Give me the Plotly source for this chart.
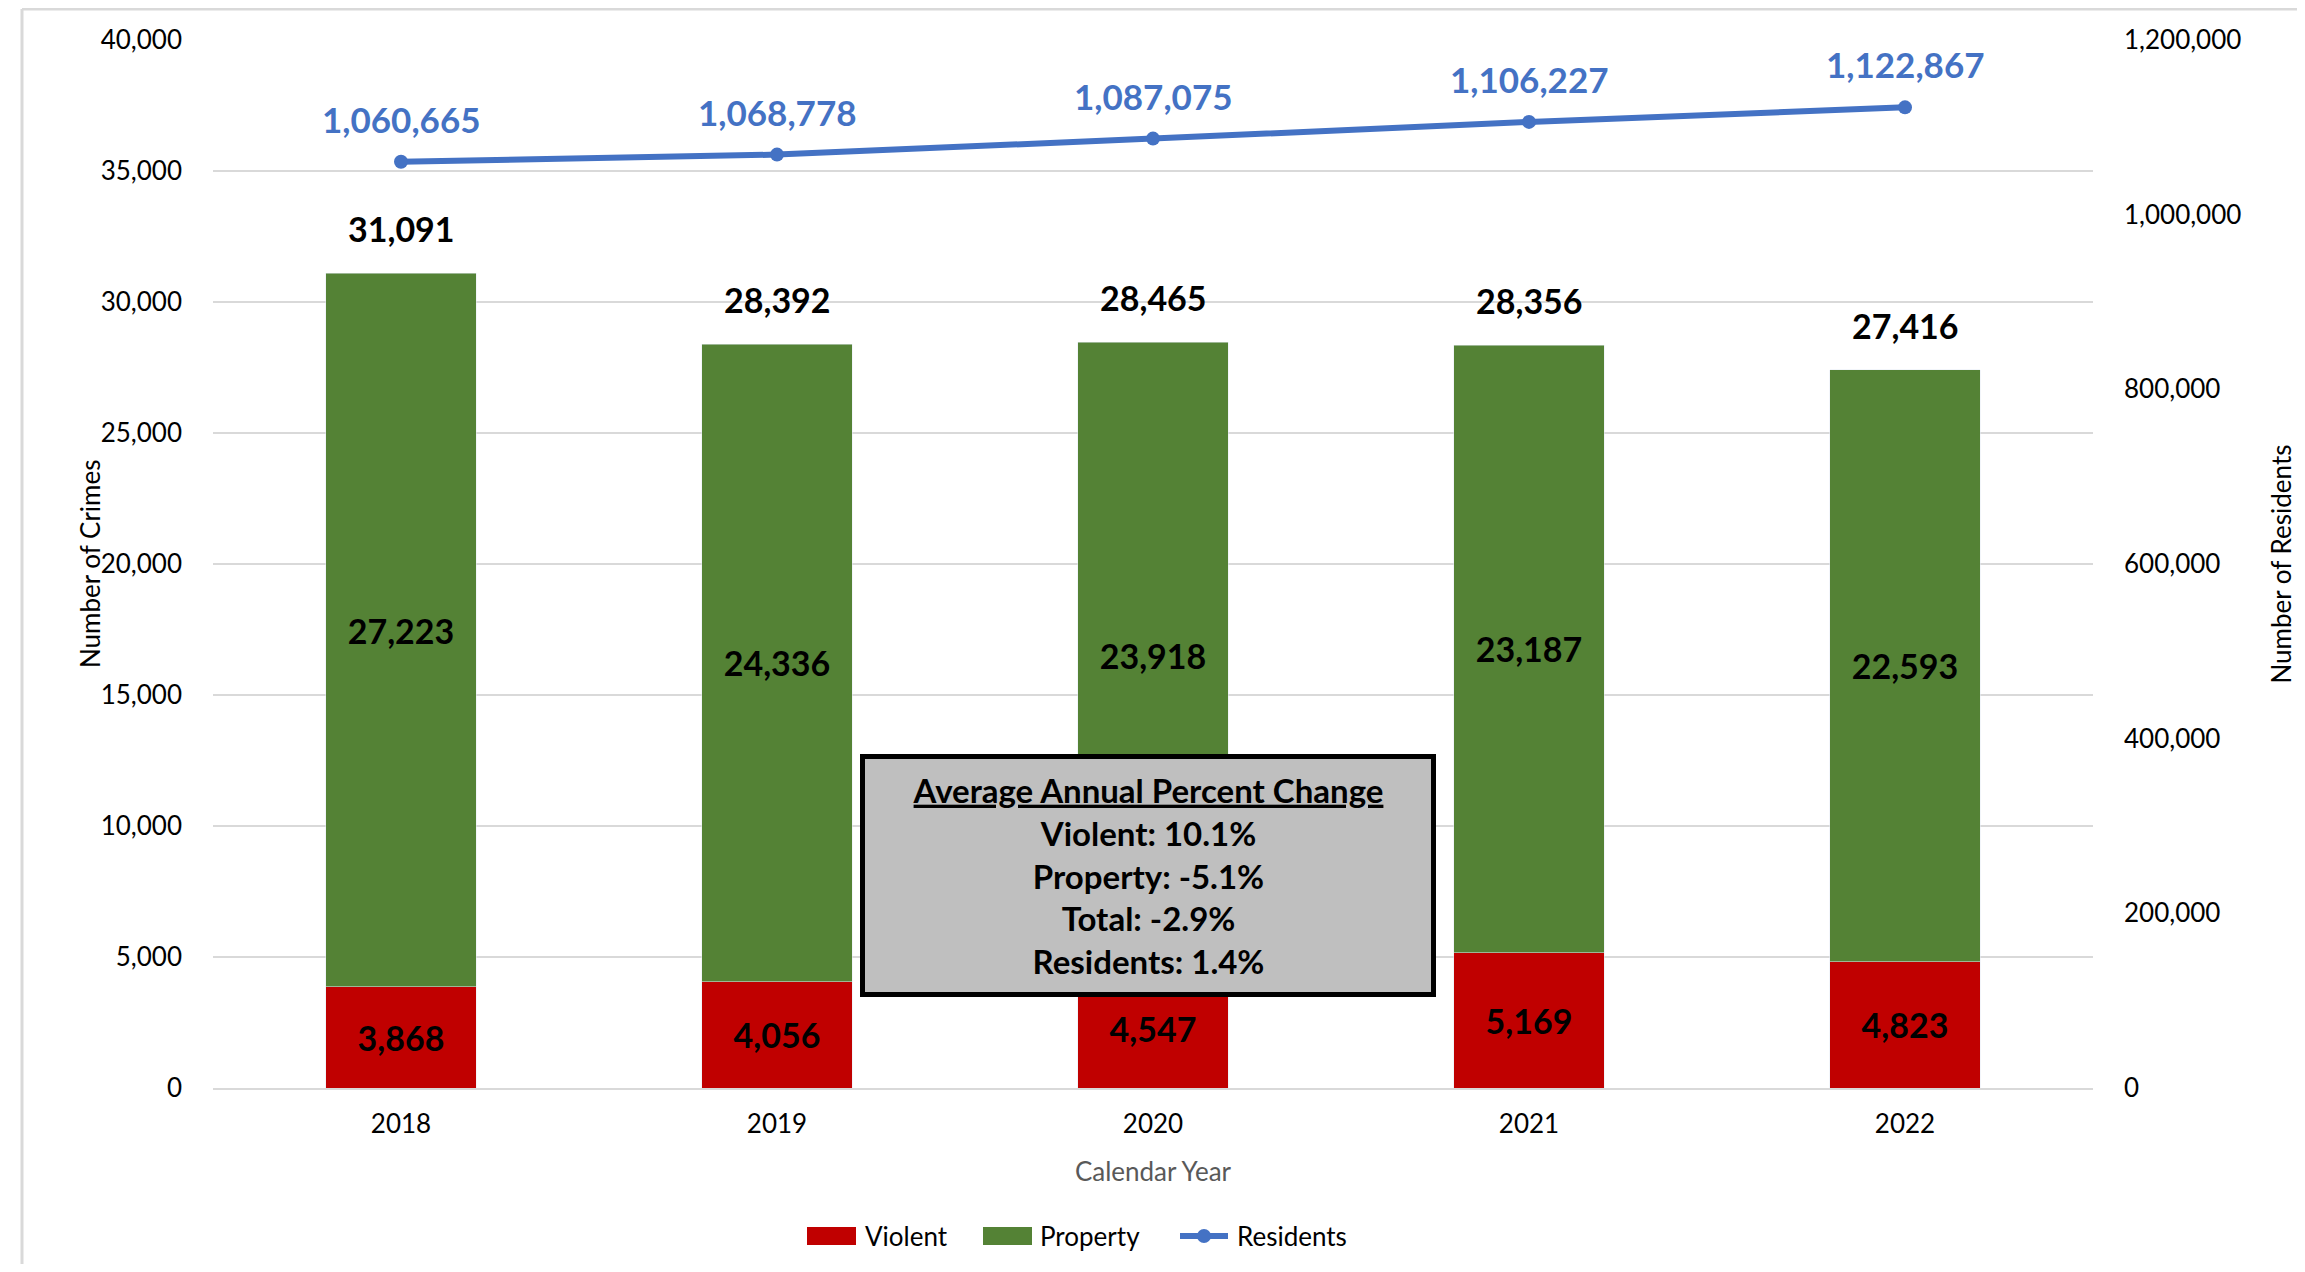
import plotly.graph_objects as go

years = ["2018", "2019", "2020", "2021", "2022"]
violent = [3868, 4056, 4547, 5169, 4823]
prop = [27223, 24336, 23918, 23187, 22593]
totals = [31091, 28392, 28465, 28356, 27416]
residents = [1060665, 1068778, 1087075, 1106227, 1122867]
box_lines = ["Violent: 10.1%", "Property: -5.1%", "Total: -2.9%", "Residents: 1.4%"]

FONT = "Lato"
RED = "#C00000"
GREEN = "#548235"
BLUE = "#4472C4"

# screen geometry (page body has an 8px margin)
OFF = 8
W, H = 2305 - 2 * OFF, 1272 - 2 * OFF
SX0, SX1, SY0, SY1 = 213, 2093, 40, 1088  # plot area on screen
pw, ph = SX1 - SX0, SY1 - SY0
L, T = SX0 - OFF, SY0 - OFF
R, B = W - L - pw, H - T - ph

def pxf(x):
    return (x - SX0) / pw

def pyf(y):
    return (SY1 - y) / ph

xi = list(range(len(years)))

fig = go.Figure()
fig.add_trace(go.Bar(
    x=xi, y=violent, name="Violent", marker_color=RED, width=0.4,
    text=[f"{v:,}" for v in violent], textposition="inside", insidetextanchor="middle",
    textfont=dict(family=FONT, size=34, color="black", weight="bold"),
    constraintext="none", textangle=0,
))
fig.add_trace(go.Bar(
    x=xi, y=prop, name="Property", marker_color=GREEN, width=0.4,
    text=[f"{v:,}" for v in prop], textposition="inside", insidetextanchor="middle",
    textfont=dict(family=FONT, size=34, color="black", weight="bold"),
    constraintext="none", textangle=0,
))
fig.add_trace(go.Scatter(
    x=xi, y=residents, name="Residents", yaxis="y2", mode="lines+markers",
    line=dict(color=BLUE, width=6), marker=dict(color=BLUE, size=14),
))

for i, t in zip(xi, totals):
    fig.add_annotation(x=i, y=t, xref="x", yref="y", text=f"<b>{t:,}</b>", showarrow=False,
                       yanchor="bottom", yshift=22, font=dict(family=FONT, size=34, color="black"))
for i, r in zip(xi, residents):
    fig.add_annotation(x=i, y=r, xref="x", yref="y2", text=f"<b>{r:,}</b>", showarrow=False,
                       yanchor="bottom", yshift=20, font=dict(family=FONT, size=35, color=BLUE))

box_text = "<b><u>Average Annual Percent Change</u></b><br>" + "<br>".join(f"<b>{s}</b>" for s in box_lines)
bx0, bx1, by0, by1 = 860, 1436, 754, 997
fig.add_annotation(
    xref="paper", yref="paper", x=pxf((bx0 + bx1) / 2), y=pyf((by0 + by1) / 2),
    xanchor="center", yanchor="middle", text=box_text, showarrow=False, align="center",
    font=dict(family=FONT, size=33, color="black"),
    bgcolor="#BFBFBF", bordercolor="black", borderwidth=5,
    width=bx1 - bx0 - 12, height=by1 - by0 - 12,
)

# left axis title (close to tick labels, as in the reference)
fig.add_annotation(xref="paper", yref="paper", x=pxf(90), y=pyf(564), text="Number of Crimes",
                   textangle=-90, showarrow=False, xanchor="center", yanchor="middle",
                   font=dict(family=FONT, size=26, color="black"))

# custom legend
LY = 1236
leg_font = dict(family=FONT, size=26, color="black")
for x0, x1, col, label, tx in [(807, 856, RED, "Violent", 863), (983, 1032, GREEN, "Property", 1038)]:
    fig.add_shape(type="rect", xref="paper", yref="paper", x0=pxf(x0), x1=pxf(x1),
                  y0=pyf(LY - 9), y1=pyf(LY + 9), fillcolor=col, line=dict(width=0))
    fig.add_annotation(xref="paper", yref="paper", x=pxf(tx), y=pyf(LY), text=label, showarrow=False,
                       xanchor="left", yanchor="middle", font=leg_font)
fig.add_shape(type="line", xref="paper", yref="paper", x0=pxf(1180), x1=pxf(1228), y0=pyf(LY), y1=pyf(LY),
              line=dict(color=BLUE, width=6))
fig.add_shape(type="circle", xref="paper", yref="paper", x0=pxf(1197), x1=pxf(1211),
              y0=pyf(LY - 7), y1=pyf(LY + 7), fillcolor=BLUE, line=dict(width=0))
fig.add_annotation(xref="paper", yref="paper", x=pxf(1235), y=pyf(LY), text="Residents", showarrow=False,
                   xanchor="left", yanchor="middle", font=leg_font)

# outer frame (left and top edges)
fig.add_shape(type="line", xref="paper", yref="paper", x0=pxf(22), x1=pxf(22), y0=pyf(9), y1=pyf(1280),
              line=dict(color="#D9D9D9", width=3))
fig.add_shape(type="line", xref="paper", yref="paper", x0=pxf(22), x1=pxf(2320), y0=pyf(9), y1=pyf(9),
              line=dict(color="#D9D9D9", width=3))

fig.update_layout(
    width=W, height=H, barmode="stack",
    margin=dict(l=L, r=R, t=T, b=B, autoexpand=False),
    paper_bgcolor="white", plot_bgcolor="white",
    font=dict(family=FONT, size=26, color="black"),
    showlegend=False,
    xaxis=dict(type="linear", range=[-0.5, len(years) - 0.5], tickvals=xi, ticktext=years,
               title=dict(text="Calendar Year", font=dict(size=26, color="#595959"), standoff=25),
               tickfont=dict(size=26), showline=True, linecolor="#D9D9D9", linewidth=2,
               showgrid=False, zeroline=False, ticks="", ticklabelstandoff=12, automargin=False),
    yaxis=dict(range=[0, 40000], dtick=5000, tickformat=",", gridcolor="#D9D9D9", gridwidth=2,
               zeroline=False, ticks="", tickfont=dict(size=26), ticklabelstandoff=30, automargin=False),
    yaxis2=dict(range=[0, 1200000], dtick=200000, tickformat=",", overlaying="y", side="right",
                showgrid=False, zeroline=False, ticks="", tickfont=dict(size=26), ticklabelstandoff=30,
                automargin=False,
                title=dict(text="Number of Residents", font=dict(size=26, color="black"), standoff=32)),
)

fig.write_html("out.html")
